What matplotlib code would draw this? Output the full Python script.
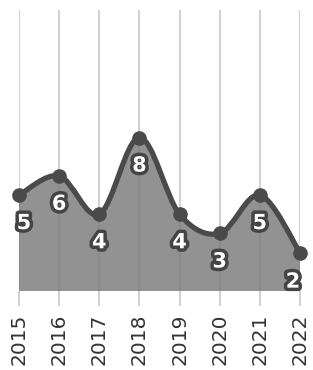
import matplotlib
matplotlib.use("Agg")
import matplotlib.pyplot as plt
import matplotlib.patheffects as pe
from matplotlib.path import Path
from matplotlib.patches import PathPatch

years = [2015, 2016, 2017, 2018, 2019, 2020, 2021, 2022]
values = [5, 6, 4, 8, 4, 3, 5, 2]
tick_labels = [str(y) for y in years]

fig = plt.figure(figsize=(3.13, 3.70), dpi=100)
ax = fig.add_axes([19/313, 79/370, 281/313, 281/370])
ax.set_xlim(2015, 2022)
ax.set_ylim(0, 14.65)

# smooth path (Catmull-Rom as cubic bezier) built from the data points
pts = list(zip(years, values))
verts = [pts[0]]
codes = [Path.MOVETO]
n = len(pts)
for i in range(n - 1):
    p0 = pts[i - 1] if i > 0 else pts[i]
    p1 = pts[i]
    p2 = pts[i + 1]
    p3 = pts[i + 2] if i + 2 < n else pts[i + 1]
    c1 = (p1[0] + (p2[0] - p0[0]) / 6, p1[1] + (p2[1] - p0[1]) / 6)
    c2 = (p2[0] - (p3[0] - p1[0]) / 6, p2[1] - (p3[1] - p1[1]) / 6)
    verts += [c1, c2, p2]
    codes += [Path.CURVE4] * 3

line_path = Path(verts, codes)
fill_verts = verts + [(years[-1], 0), (years[0], 0), verts[0]]
fill_codes = codes + [Path.LINETO, Path.LINETO, Path.CLOSEPOLY]
fill_path = Path(fill_verts, fill_codes)

# grid lines
ax.set_xticks(years)
ax.set_xticklabels(tick_labels, rotation=90, fontsize=14.5, color="#333333")
ax.tick_params(axis="x", length=11, width=1.5, color="#d3d3d3", pad=5)
ax.set_yticks([])
ax.grid(axis="x", color="#d3d3d3", linewidth=1.6)
ax.set_axisbelow(True)
for s in ax.spines.values():
    s.set_visible(False)

ax.add_patch(PathPatch(fill_path, facecolor="#7a7a7a", edgecolor="none",
                       alpha=0.82, zorder=2, clip_on=False))
ax.add_patch(PathPatch(line_path, facecolor="none", edgecolor="#4a4a4a",
                       linewidth=3.8, zorder=3, clip_on=False,
                       capstyle="round", joinstyle="round"))
ax.plot(years, values, "o", color="#4a4a4a", markersize=9.5, zorder=4,
        clip_on=False)

offsets = {0: (5, -28), 7: (-7, -29)}
for i, (x, v) in enumerate(zip(years, values)):
    dx, dy = offsets.get(i, (0, -28))
    ax.annotate(str(v), (x, v), xytext=(dx, dy), textcoords="offset pixels",
                ha="center", va="center", fontsize=15, fontweight="bold",
                color="white", zorder=5, annotation_clip=False,
                path_effects=[pe.Stroke(linewidth=5, foreground="#444444"),
                              pe.Normal()])

fig.savefig("out.png", dpi=100, facecolor="white")
